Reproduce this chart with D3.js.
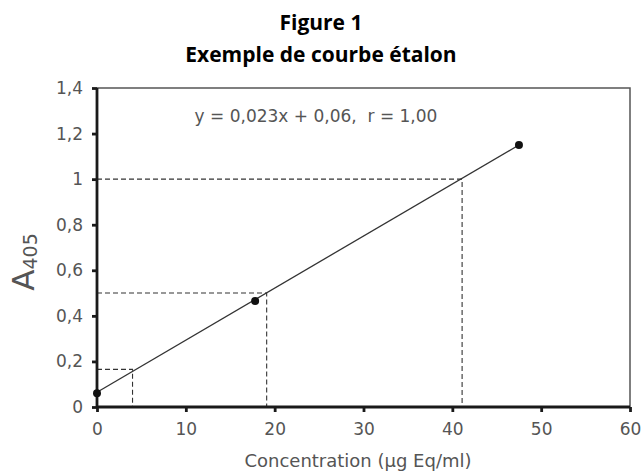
<!DOCTYPE html>
<html>
<head>
<meta charset="utf-8">
<script src="https://cdn.jsdelivr.net/npm/d3@7"></script>
<style>
  body { margin: 0; background: #fff; }
  svg text { font-family: "DejaVu Sans", sans-serif; white-space: pre; }
</style>
</head>
<body>
<div class="chart"></div>
<script>
// standard points
var concValues = [0, 17.8, 47.5];
var absValues = [0.06, 0.465, 1.15];
// regression line y = 0.023x + 0.06
var fitX = [0, 47.5];
var fitY = [0.065, 1.15];
// dashed read-off lines (x where fit hits target A)
var guideX = [4, 19.1, 41.1];
var guideY = [0.165, 0.5, 1.0];
var xTicks = [0, 10, 20, 30, 40, 50, 60];
var yTicks = [0, 0.2, 0.4, 0.6, 0.8, 1, 1.2, 1.4];

var width = 642, height = 474;
var margin = {top: 88, right: 12, bottom: 67, left: 97};

var svg = d3.select(".chart")
	.append("svg")
		.attr("width", width)
		.attr("height", height);

var x = d3.scaleLinear().domain([0, 60]).range([margin.left, width - margin.right]);
var y = d3.scaleLinear().domain([0, 1.4]).range([height - margin.bottom, margin.top]);

var fmt = function(d) { return String(d).replace(".", ","); };

// title
svg.append("text")
	.attr("x", 321).attr("y", 30)
	.attr("text-anchor", "middle")
	.style("font-family", "'Open Sans', sans-serif")
	.attr("font-weight", "bold")
	.attr("font-size", "21px")
	.text("Figure 1");
svg.append("text")
	.attr("x", 321).attr("y", 62)
	.attr("text-anchor", "middle")
	.style("font-family", "'Open Sans', sans-serif")
	.attr("font-weight", "bold")
	.attr("font-size", "21px")
	.text("Exemple de courbe étalon");

// frame top and right
svg.append("path")
	.attr("d", "M" + x(0) + "," + y(1.4) + "H" + x(60) + "V" + y(0))
	.attr("fill", "none")
	.attr("stroke", "#555")
	.attr("stroke-width", 1.5);

// dashed guides
var guides = svg.append("g")
	.attr("fill", "none")
	.attr("stroke", "#333")
	.attr("stroke-width", 1.1)
	.attr("stroke-dasharray", "5,3");
guideX.forEach(function(gx, i) {
	guides.append("path")
		.attr("d", "M" + x(0) + "," + y(guideY[i]) + "H" + x(gx) + "V" + y(0));
});

// axes
var xAxis = svg.append("g")
	.attr("transform", "translate(0," + y(0) + ")")
	.call(d3.axisBottom(x).tickValues(xTicks).tickSize(5).tickPadding(11).tickFormat(fmt));
var yAxis = svg.append("g")
	.attr("transform", "translate(" + x(0) + ",0)")
	.call(d3.axisLeft(y).tickValues(yTicks).tickSize(5).tickPadding(9).tickFormat(fmt));
[xAxis, yAxis].forEach(function(a) {
	a.select(".domain").attr("stroke", "#1a1a1a").attr("stroke-width", 2.8);
	a.selectAll(".tick line").attr("stroke", "#1a1a1a").attr("stroke-width", 2.8);
	a.selectAll(".tick text")
		.attr("fill", "#555")
		.attr("font-size", "17px")
		.style("font-family", "'DejaVu Sans', sans-serif");
});
xAxis.select(".domain").attr("d", "M" + x(0) + ",0H" + x(60));
yAxis.select(".domain").attr("d", "M0," + y(0) + "V" + y(1.4));

// fit line
svg.append("line")
	.attr("x1", x(fitX[0])).attr("y1", y(fitY[0]))
	.attr("x2", x(fitX[1])).attr("y2", y(fitY[1]))
	.attr("stroke", "#333")
	.attr("stroke-width", 1.3);

// points
svg.selectAll("circle.pt")
	.data(concValues)
	.enter()
		.append("circle")
			.attr("class", "pt")
			.attr("cx", function(d) { return x(d); })
			.attr("cy", function(d, i) { return y(absValues[i]); })
			.attr("r", 4)
			.attr("fill", "#111");

// equation
svg.append("text")
	.attr("x", 316).attr("y", 122)
	.attr("text-anchor", "middle")
	.attr("fill", "#555")
	.attr("font-size", "17px")
	.text("y = 0,023x + 0,06,  r = 1,00");

// axis titles
svg.append("text")
	.attr("x", 358).attr("y", 467)
	.attr("text-anchor", "middle")
	.attr("fill", "#555")
	.attr("font-size", "18px")
	.text("Concentration (µg Eq/ml)");

var yl = svg.append("text")
	.attr("transform", "translate(34,262) rotate(-90)")
	.attr("text-anchor", "middle")
	.attr("fill", "#555")
	.attr("font-size", "31px");
yl.append("tspan").text("A");
yl.append("tspan").attr("font-size", "19px").attr("dy", 3).text("405");
</script>
</body>
</html>
